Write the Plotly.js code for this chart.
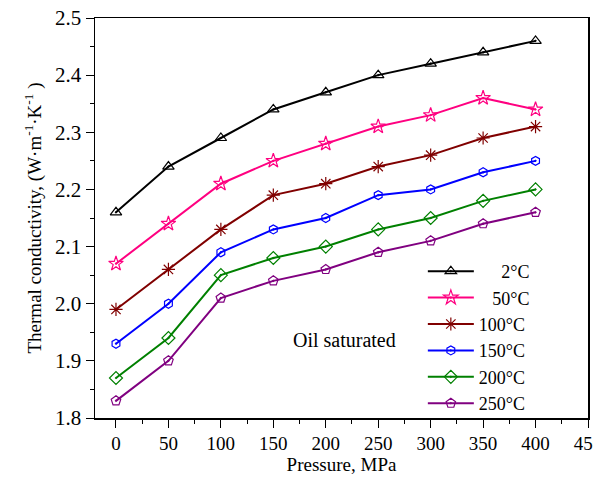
<!DOCTYPE html>
<html>
<head>
<meta charset="utf-8">
<script src="https://cdn.plot.ly/plotly-3.0.1.min.js"></script>
<style>html,body{margin:0;padding:0;background:#fff;}#chart{width:593px;height:478px;}</style>
</head>
<body>
<div id="chart"></div>
<script>
var pressure = [0, 50, 100, 150, 200, 250, 300, 350, 400];
var k2   = [2.16, 2.24, 2.29, 2.34, 2.37, 2.40, 2.42, 2.44, 2.46];
var k50  = [2.07, 2.14, 2.21, 2.25, 2.28, 2.31, 2.33, 2.36, 2.34];
var k100 = [1.99, 2.06, 2.13, 2.19, 2.21, 2.24, 2.26, 2.29, 2.31];
var k150 = [1.93, 2.00, 2.09, 2.13, 2.15, 2.19, 2.20, 2.23, 2.25];
var k200 = [1.87, 1.94, 2.05, 2.08, 2.10, 2.13, 2.15, 2.18, 2.20];
var k250 = [1.83, 1.90, 2.01, 2.04, 2.06, 2.09, 2.11, 2.14, 2.16];
var seriesNames = ['\u00A0\u00A0\u00A0\u00A0\u00A02°C', '\u00A0\u00A0\u00A050°C', '100°C', '150°C', '200°C', '250°C'];
var xTicks = [0, 50, 100, 150, 200, 250, 300, 350, 400, 450];
var yTicks = [1.8, 1.9, 2.0, 2.1, 2.2, 2.3, 2.4, 2.5];

var FONT = '"Liberation Serif", "Times New Roman", serif';
var series = [k2, k50, k100, k150, k200, k250];
var colors = ['#000000', '#ff0080', '#800000', '#0000ff', '#008000', '#800080'];
var symbols = ['triangle-up-open-dot', 'star-open-dot', 'asterisk-open', 'hexagon-open-dot', 'diamond-open-dot', 'pentagon-open-dot'];
var sizes = [10, 11, 11, 9, 10, 10];

var traces = series.map(function (ys, i) {
  return {
    x: pressure, y: ys, name: seriesNames[i], type: 'scatter', mode: 'lines+markers',
    line: {color: colors[i], width: 2},
    marker: {symbol: symbols[i], size: sizes[i], color: colors[i], line: {color: colors[i], width: 1.2}},
    cliponaxis: false
  };
});

var layout = {
  width: 593, height: 478,
  margin: {l: 95, r: 5, t: 18, b: 60},
  paper_bgcolor: '#fff', plot_bgcolor: '#fff',
  font: {family: FONT, color: '#000', size: 18},
  showlegend: true,
  legend: {
    x: 0.665, y: 0.4125, xanchor: 'left', yanchor: 'top',
    bgcolor: 'rgba(0,0,0,0)', borderwidth: 0,
    font: {family: FONT, size: 18, color: '#000'},
    itemwidth: 46,
    tracegroupgap: 0
  },
  xaxis: {
    range: [-20, 450], tickvals: xTicks, ticktext: xTicks.map(String),
    showgrid: false, zeroline: false,
    showline: true, linecolor: '#000', linewidth: 1.5, mirror: true,
    ticks: 'outside', ticklen: 8, tickwidth: 1, tickcolor: '#000',
    ticklabeloverflow: 'allow',
    minor: {ticks: 'outside', ticklen: 4, dtick: 25, tick0: 0, tickcolor: '#000'},
    tickfont: {family: FONT, size: 19},
    title: {text: 'Pressure, MPa', font: {family: FONT, size: 19}, standoff: 4}
  },
  xaxis2: {
    overlaying: 'x', matches: 'x', side: 'top', range: [-20, 450],
    tickvals: xTicks, showticklabels: false, showgrid: false, zeroline: false, showline: false,
    ticks: 'inside', ticklen: 3, tickwidth: 1, tickcolor: '#666'
  },
  yaxis: {
    range: [1.8, 2.5], tickvals: yTicks, ticktext: yTicks.map(function (v) { return v.toFixed(1); }),
    showgrid: false, zeroline: false,
    showline: true, linecolor: '#000', linewidth: 1.5, mirror: true,
    ticks: 'outside', ticklen: 8, tickwidth: 1, tickcolor: '#000',
    minor: {ticks: 'outside', ticklen: 4, dtick: 0.05, tick0: 1.8, tickcolor: '#000'},
    tickfont: {family: FONT, size: 21},
    title: {text: 'Thermal conductivity, (W·m<sup>-1</sup>·K<sup>-1</sup> )', font: {family: FONT, size: 19}, standoff: 8}
  },
  yaxis2: {
    overlaying: 'y', matches: 'y', side: 'right', range: [1.8, 2.5],
    tickvals: yTicks, showticklabels: false, showgrid: false, zeroline: false, showline: false,
    ticks: 'inside', ticklen: 3, tickwidth: 1, tickcolor: '#666'
  },
  annotations: [{
    x: 218, y: 1.9365, xref: 'x', yref: 'y', text: 'Oil saturated', showarrow: false,
    font: {family: FONT, size: 20, color: '#000'}
  }]
};

Plotly.newPlot('chart', traces, layout, {displayModeBar: false, staticPlot: true});
</script>
</body>
</html>
